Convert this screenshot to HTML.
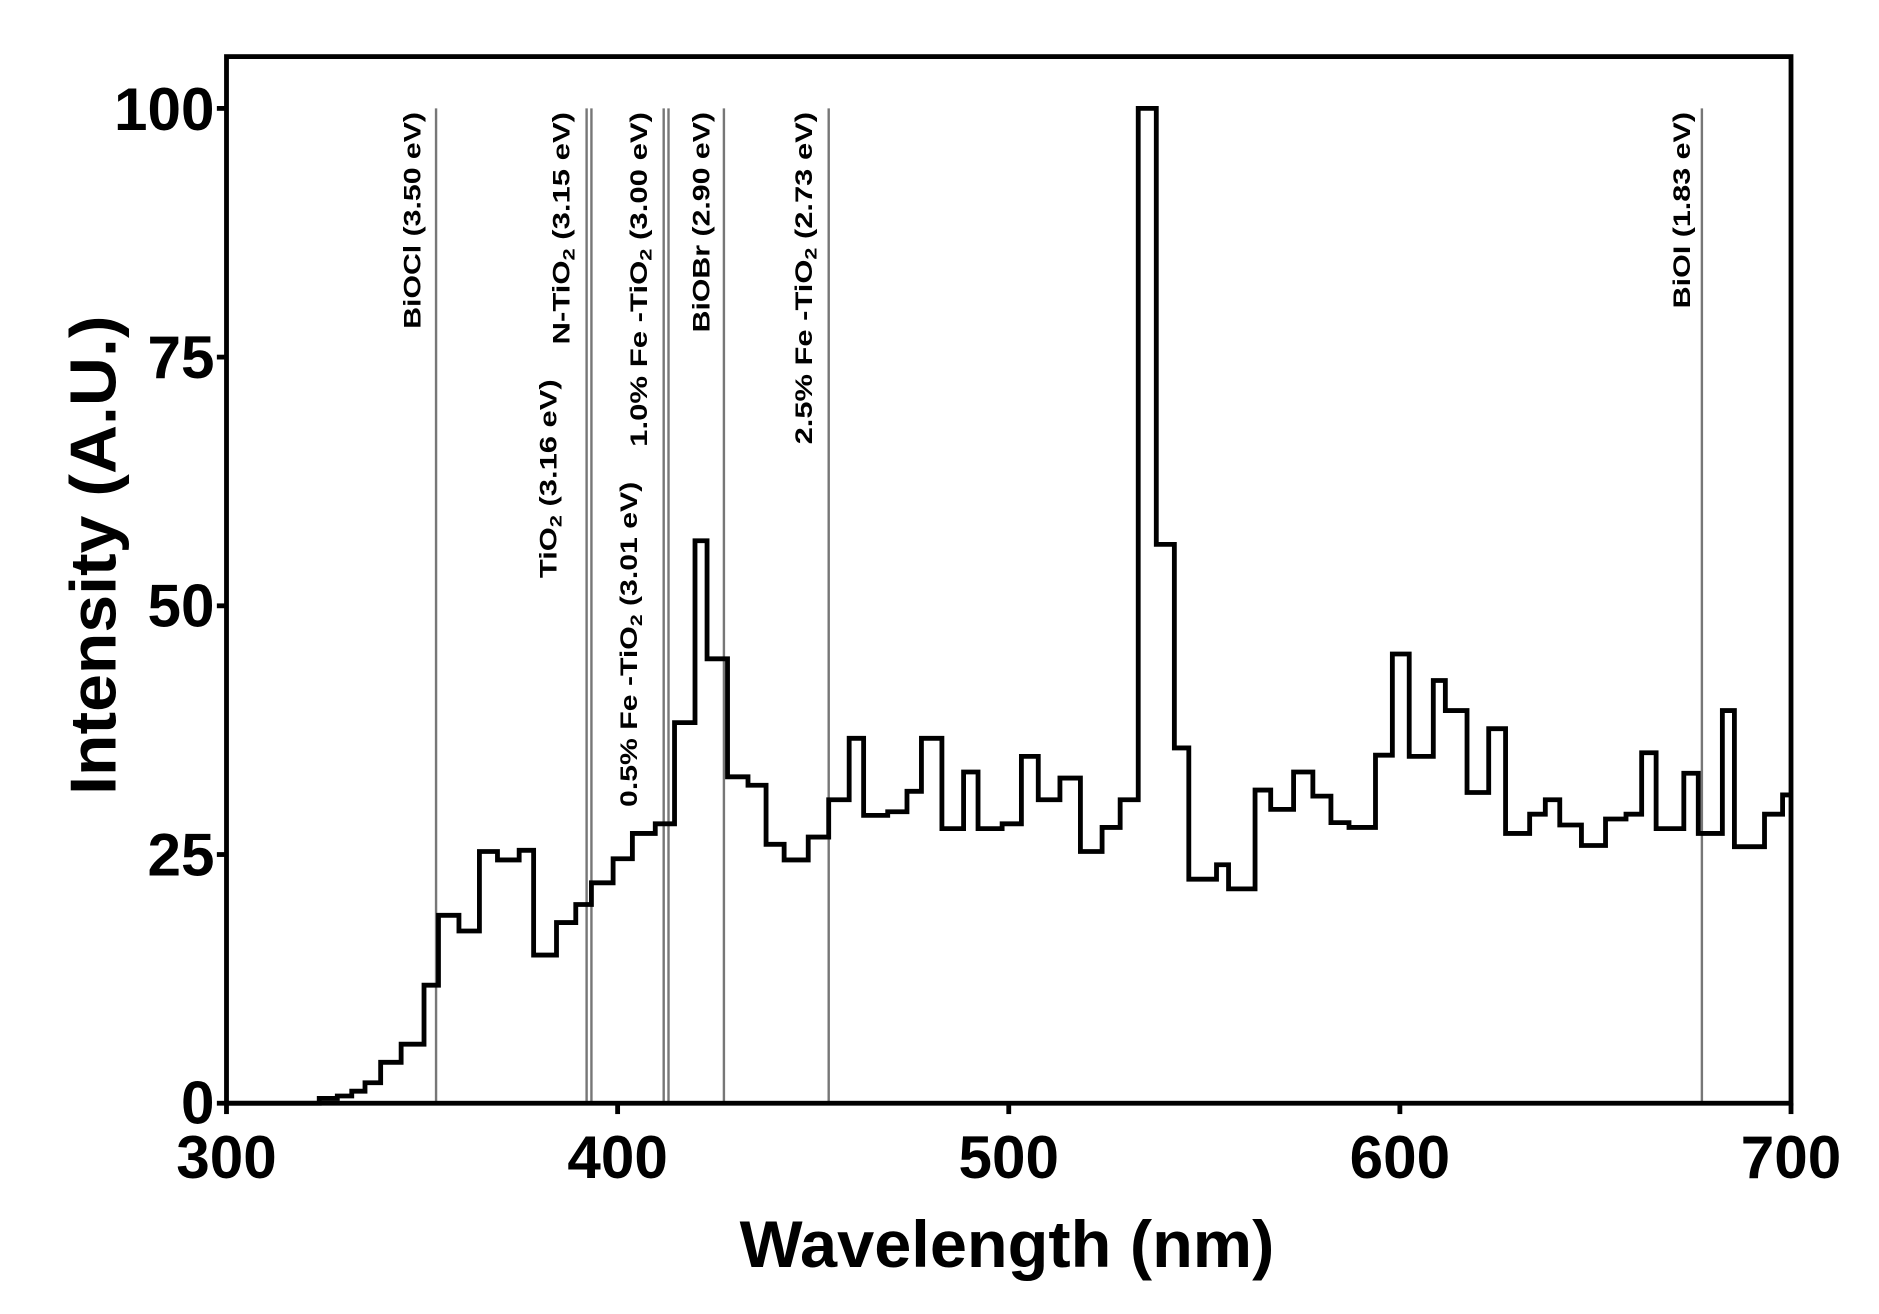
<!DOCTYPE html>
<html><head><meta charset="utf-8"><style>html,body{margin:0;padding:0;background:#fff}svg{display:block}</style></head>
<body>
<svg width="1879" height="1314" viewBox="0 0 1560 1091" xmlns="http://www.w3.org/2000/svg" font-family="Liberation Sans, Arial, sans-serif">
<rect width="1560" height="1091" fill="#fff"/>
<g stroke="#777" stroke-width="2">
<line x1="362" y1="90" x2="362" y2="916"/>
<line x1="487" y1="90" x2="487" y2="916"/>
<line x1="491" y1="90" x2="491" y2="916"/>
<line x1="551" y1="90" x2="551" y2="916"/>
<line x1="555" y1="90" x2="555" y2="916"/>
<line x1="601" y1="90" x2="601" y2="916"/>
<line x1="688" y1="90" x2="688" y2="916"/>
<line x1="1413" y1="90" x2="1413" y2="916"/>
</g>
<path fill="none" stroke="#000" stroke-width="4" stroke-linejoin="miter" d="M188 916 H265 V912 H280 V910 H292 V906 H303 V899 H316 V882 H333 V867 H352 V818 H364 V760 H381 V773 H398 V707 H413 V714 H431 V706 H443 V793 H462 V766 H478 V751 H491 V733 H509 V713 H525 V692 H544 V684 H560 V600 H577 V449 H587 V547 H604 V645 H621 V652 H636 V701 H651 V714 H671 V695 H688 V664 H705 V613 H717 V677 H737 V674 H753 V657 H765 V613 H782 V688 H800 V641 H812 V688 H832 V684 H848 V628 H862 V664 H880 V646 H897 V707 H915 V687 H930 V664 H945 V90 H960 V452 H975 V621 H987 V730 H1010 V718 H1020 V738 H1042 V656 H1055 V672 H1074 V641 H1090 V661 H1105 V683 H1120 V687 H1142 V627 H1156 V543 H1170 V628 H1190 V565 H1200 V590 H1218 V658 H1236 V605 H1250 V692 H1270 V676 H1283 V664 H1295 V685 H1313 V702 H1333 V680 H1350 V676 H1363 V625 H1375 V688 H1398 V642 H1410 V692 H1430 V590 H1440 V703 H1465 V676 H1480 V660 H1487"/>
<rect x="188" y="47" width="1299" height="869" fill="none" stroke="#000" stroke-width="4"/>
<g stroke="#000" stroke-width="4">
<line x1="180" y1="916" x2="188" y2="916"/><line x1="180" y1="709.5" x2="188" y2="709.5"/><line x1="180" y1="503" x2="188" y2="503"/><line x1="180" y1="296.5" x2="188" y2="296.5"/><line x1="180" y1="90" x2="188" y2="90"/>
<line x1="188" y1="916" x2="188" y2="925"/><line x1="512.75" y1="916" x2="512.75" y2="925"/><line x1="837.5" y1="916" x2="837.5" y2="925"/><line x1="1162.25" y1="916" x2="1162.25" y2="925"/><line x1="1487" y1="916" x2="1487" y2="925"/>
</g>
<g font-size="50" font-weight="bold" text-anchor="end">
<text x="178" y="933">0</text><text x="178" y="727">25</text><text x="178" y="520">50</text><text x="178" y="314">75</text><text x="178" y="108">100</text>
</g>
<g font-size="50" font-weight="bold" text-anchor="middle">
<text x="188" y="978">300</text><text x="512.75" y="978">400</text><text x="837.5" y="978">500</text><text x="1162.25" y="978">600</text><text x="1487" y="978">700</text>
</g>
<text x="836" y="1052" font-size="55" font-weight="bold" text-anchor="middle" textLength="444" lengthAdjust="spacingAndGlyphs">Wavelength (nm)</text>
<text transform="translate(96,461) rotate(-90)" font-size="54" font-weight="bold" text-anchor="middle" textLength="398" lengthAdjust="spacingAndGlyphs">Intensity (A.U.)</text>
<g font-size="20" font-weight="bold" text-anchor="end" lengthAdjust="spacingAndGlyphs">
<text transform="translate(349,93) rotate(-90)" textLength="180" lengthAdjust="spacingAndGlyphs">BiOCl (3.50 eV)</text>
<text transform="translate(473,93) rotate(-90)" textLength="193" lengthAdjust="spacingAndGlyphs">N-TiO<tspan font-size="14" dy="4">2</tspan><tspan dy="-4"> (3.15 eV)</tspan></text>
<text transform="translate(462,315) rotate(-90)" textLength="165" lengthAdjust="spacingAndGlyphs">TiO<tspan font-size="14" dy="4">2</tspan><tspan dy="-4"> (3.16 eV)</tspan></text>
<text transform="translate(537,93) rotate(-90)" textLength="278" lengthAdjust="spacingAndGlyphs">1.0% Fe -TiO<tspan font-size="14" dy="4">2</tspan><tspan dy="-4"> (3.00 eV)</tspan></text>
<text transform="translate(529,400) rotate(-90)" textLength="270" lengthAdjust="spacingAndGlyphs">0.5% Fe -TiO<tspan font-size="14" dy="4">2</tspan><tspan dy="-4"> (3.01 eV)</tspan></text>
<text transform="translate(589,93) rotate(-90)" textLength="183" lengthAdjust="spacingAndGlyphs">BiOBr (2.90 eV)</text>
<text transform="translate(674,93) rotate(-90)" textLength="276" lengthAdjust="spacingAndGlyphs">2.5% Fe -TiO<tspan font-size="14" dy="4">2</tspan><tspan dy="-4"> (2.73 eV)</tspan></text>
<text transform="translate(1403,93) rotate(-90)" textLength="163" lengthAdjust="spacingAndGlyphs">BiOI (1.83 eV)</text>
</g>
</svg>
</body></html>
